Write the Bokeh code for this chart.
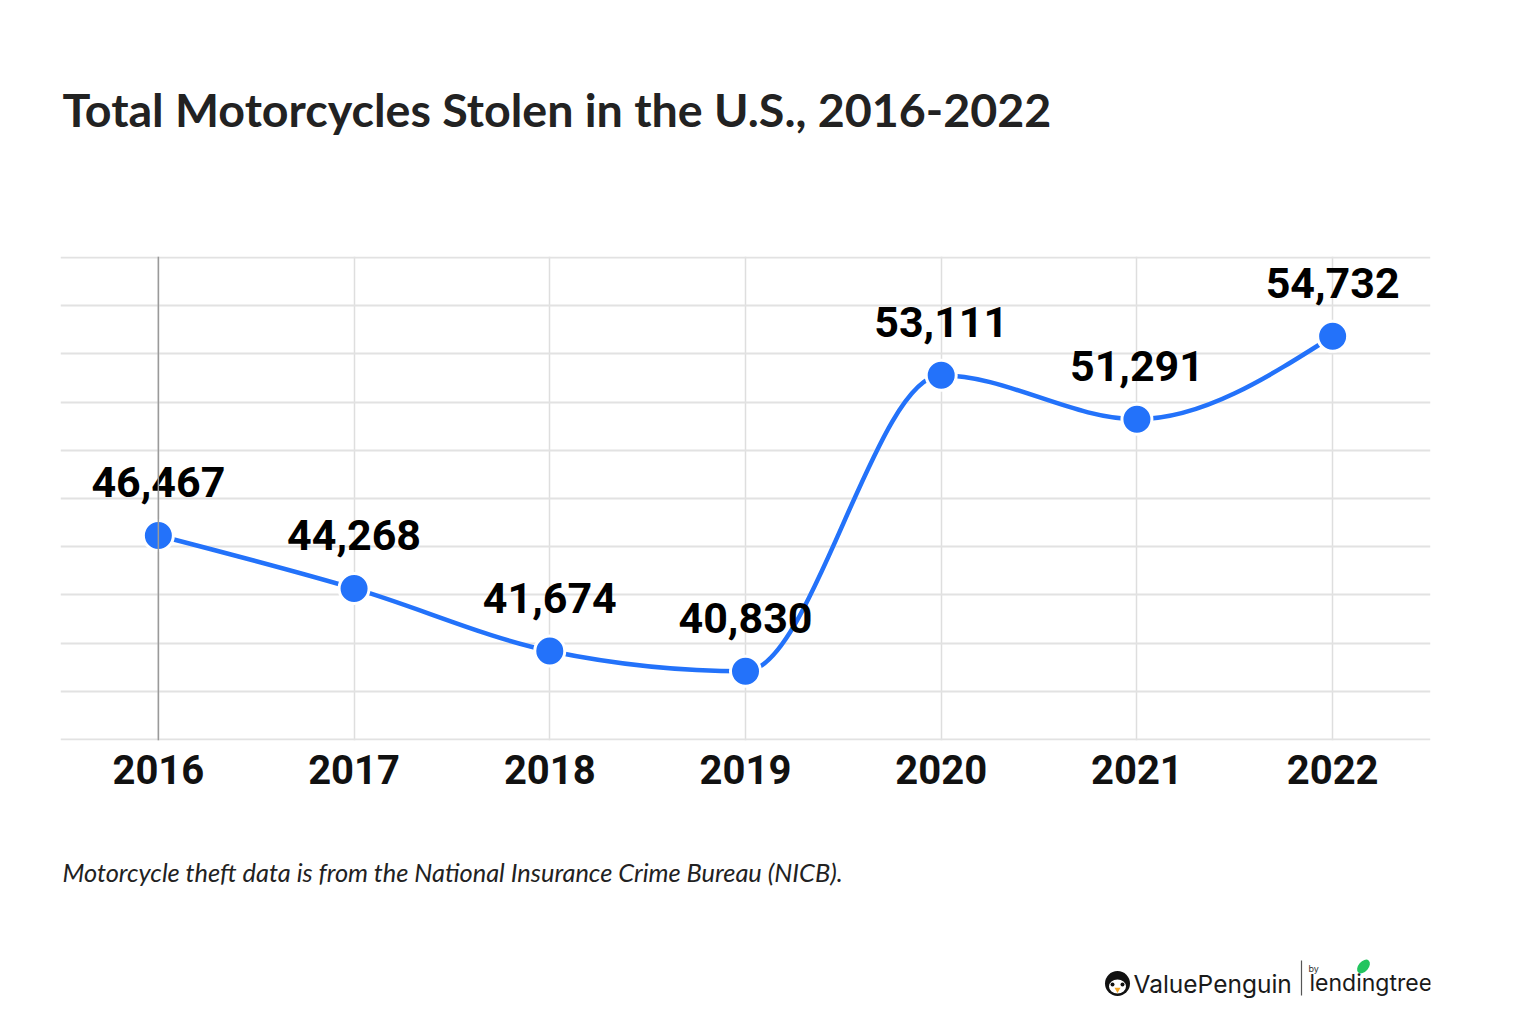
import numpy as np
from bokeh.plotting import figure
from bokeh.layouts import column
from bokeh.models import Range1d, FixedTicker, Span, ColumnDataSource
from bokeh.core.properties import value
from bokeh.embed import file_html
from bokeh.resources import INLINE

# ---- data ----
years = [2016, 2017, 2018, 2019, 2020, 2021, 2022]
stolen = [46467, 44268, 41674, 40830, 53111, 51291, 54732]
value_labels = ["46,467", "44,268", "41,674", "40,830", "53,111", "51,291", "54,732"]
y_grid_ticks = [38000, 40000, 42000, 44000, 46000, 48000, 50000, 52000, 54000, 56000, 58000]

TITLE = "Total Motorcycles Stolen in the U.S., 2016-2022"
NOTE = "Motorcycle theft data is from the National Insurance Crime Bureau (NICB)."
BLUE = "#2372FA"

W = 1512
FL, FR = 60, 1430          # frame left / right (page px)
BL, BR = FL, W - FR        # borders shared by all three figures


def blank(height):
    f = figure(width=W, height=height, output_backend="svg", toolbar_location=None,
               x_range=Range1d(FL, FR), y_range=Range1d(height, 0),
               min_border_left=BL, min_border_right=BR, min_border_top=0,
               min_border_bottom=0, outline_line_color=None,
               background_fill_color="white", border_fill_color="white")
    f.axis.visible = False
    f.grid.visible = False
    return f


# ---- header ----
HH = 250
head = blank(HH)
head.text(x=[62], y=[108], text=[TITLE], text_font=value("Lato"), text_font_style="bold",
          text_font_size="46.6px", text_color="#222222", text_baseline="middle")

# ---- chart: monotone-x cubic (d3 curveMonotoneX) control points ----
xs = np.array(years, dtype=float)
ys = np.array(stolen, dtype=float)
n = len(xs)
h = np.diff(xs)
s = np.diff(ys) / h
t = np.zeros(n)
for i in range(1, n - 1):
    h0, h1 = h[i - 1], h[i]
    s0, s1 = s[i - 1], s[i]
    pp = (s0 * h1 + s1 * h0) / (h0 + h1)
    t[i] = (np.sign(s0) + np.sign(s1)) * min(abs(s0), abs(s1), 0.5 * abs(pp))
t[0] = (3 * s[0] - t[1]) / 2
t[-1] = (3 * s[-1] - t[-2]) / 2
bez = ColumnDataSource(dict(
    x0=xs[:-1], y0=ys[:-1], x1=xs[1:], y1=ys[1:],
    cx0=xs[:-1] + h / 3, cy0=ys[:-1] + h * t[:-1] / 3,
    cx1=xs[1:] - h / 3, cy1=ys[1:] - h * t[1:] / 3,
))
pts = ColumnDataSource(dict(x=years, y=stolen, lab=value_labels))

CH = 580
p = figure(width=W, height=CH, output_backend="svg", toolbar_location=None,
           x_range=Range1d(2015.5, 2022.5), y_range=Range1d(37960, 58040),
           min_border_left=BL, min_border_right=BR, min_border_top=6,
           min_border_bottom=CH - 6 - 484, outline_line_color=None,
           background_fill_color="white", border_fill_color="white")

p.ygrid.ticker = FixedTicker(ticks=y_grid_ticks)
p.ygrid.grid_line_color = "#e2e2e2"
p.ygrid.grid_line_width = 2
p.xgrid.ticker = FixedTicker(ticks=years)
p.xgrid.grid_line_color = "#dedede"
p.xgrid.grid_line_width = 1.5
p.add_layout(Span(location=years[0], dimension="height", line_color="#9a9a9a", line_width=1.5))

p.yaxis.visible = False
ax = p.xaxis[0]
ax.ticker = FixedTicker(ticks=years)
ax.axis_line_color = None
ax.major_tick_line_color = None
ax.minor_tick_line_color = None
ax.major_label_standoff = 8
ax.major_label_text_font = "Roboto"
ax.major_label_text_font_style = "bold"
ax.major_label_text_font_size = "40px"
ax.major_label_text_color = "#111111"

p.bezier("x0", "y0", "x1", "y1", "cx0", "cy0", "cx1", "cy1", source=bez,
         line_color=BLUE, line_width=4.5)
p.scatter("x", "y", source=pts, size=30, fill_color=BLUE, line_color="white", line_width=3)
p.text("x", "y", text="lab", source=pts, text_align="center", text_baseline="middle",
       y_offset=-53, text_font=value("Roboto"), text_font_style="bold",
       text_font_size="43px", text_color="#000000")

# ---- footer ----
FH = 1008 - HH - CH
foot = blank(FH)
Y0 = HH + CH  # page y of footer top
foot.text(x=[62], y=[871 - Y0], text=[NOTE], text_font=value("Lato"),
          text_font_style="italic", text_font_size="25.4px", text_color="#222222",
          text_baseline="middle")
# logo
foot.scatter(x=[1117], y=[983 - Y0], size=25, fill_color="#111111", line_color=None)
foot.ellipse(x=[1117], y=[986 - Y0], width=17, height=14, fill_color="white", line_color=None)
foot.scatter(x=[1112, 1122], y=[984 - Y0, 984 - Y0], size=4, fill_color="#111111", line_color=None)
foot.scatter(x=[1117], y=[989 - Y0], size=6, marker="inverted_triangle",
             fill_color="#F5A623", line_color=None)
foot.text(x=[1133], y=[983 - Y0], text=["ValuePenguin"], text_font=value("Inter"),
          text_font_size="24.5px", text_color="#1a1a1a", text_baseline="middle")
foot.segment(x0=[1301], y0=[960 - Y0], x1=[1301], y1=[995 - Y0], line_color="#555555",
             line_width=1.2)
foot.text(x=[1308], y=[968 - Y0], text=["by"], text_font=value("Inter"),
          text_font_size="9px", text_color="#333333", text_baseline="middle")
foot.text(x=[1309], y=[982 - Y0], text=["lendingtree"], text_font=value("Inter"),
          text_font_size="23px", text_color="#1a1a1a", text_baseline="middle")
foot.ellipse(x=[1363], y=[966 - Y0], width=10, height=16, angle=-0.7,
             fill_color="#22C55E", line_color=None)

layout = column(head, p, foot, spacing=0)
open("out.html", "w").write(file_html(layout, INLINE))
